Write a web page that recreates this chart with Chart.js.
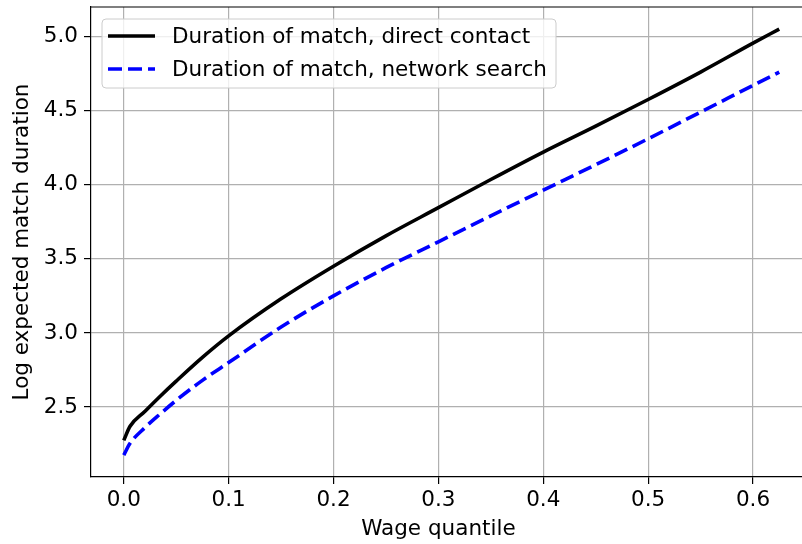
<!DOCTYPE html>
<html>
<head>
<meta charset="utf-8">
<script src="https://cdn.jsdelivr.net/npm/chart.js@4"></script>
<style>
html,body{margin:0;padding:0;overflow:hidden;background:#fff;}
#wrap{width:815px;height:544px;position:relative;}
</style>
</head>
<body>
<div id="wrap"><canvas id="c"></canvas></div>
<script>
const quantiles = [0, 0.006, 0.02, 0.035, 0.05, 0.075, 0.1, 0.15, 0.2, 0.25, 0.3, 0.35, 0.4, 0.45, 0.5, 0.55, 0.6, 0.625];
const directContact = [2.275, 2.37, 2.47, 2.575, 2.675, 2.835, 2.98, 3.23, 3.45, 3.655, 3.845, 4.035, 4.22, 4.395, 4.575, 4.76, 4.955, 5.05];
const networkSearch = [2.175, 2.255, 2.36, 2.455, 2.545, 2.68, 2.80, 3.04, 3.25, 3.44, 3.615, 3.79, 3.963, 4.135, 4.31, 4.49, 4.67, 4.76];
const xTicks = [0, 0.1, 0.2, 0.3, 0.4, 0.5, 0.6];
const yTicks = [2.5, 3.0, 3.5, 4.0, 4.5, 5.0];
const seriesLabels = ['Duration of match, direct contact', 'Duration of match, network search'];
const xTitle = 'Wage quantile';
const yTitle = 'Log expected match duration';

const FONT = 'DejaVu Sans';
const FS = 21.5;

const toPts = (ys) => quantiles.map((q, i) => ({x: q, y: ys[i]}));

const overlay = {
  id: 'overlay',
  afterDraw(chart) {
    const ctx = chart.ctx;
    const a = chart.chartArea;
    ctx.save();
    ctx.strokeStyle = '#000';
    ctx.lineWidth = 1.2;
    ctx.beginPath();
    ctx.moveTo(a.left, a.top);
    ctx.lineTo(a.right, a.top);
    ctx.stroke();
    ctx.fillStyle = '#000';
    ctx.font = FS + 'px "' + FONT + '"';
    ctx.textAlign = 'center';
    ctx.textBaseline = 'middle';
    ctx.fillText(xTitle, chart.scales.x.getPixelForValue(0.3), 529);
    ctx.save();
    ctx.translate(22, (a.top + a.bottom) / 2);
    ctx.rotate(-Math.PI / 2);
    ctx.fillText(yTitle, 0, 0);
    ctx.restore();
    const bx = 102, by = 19, bw = 454, bh = 69, r = 4;
    ctx.beginPath();
    ctx.moveTo(bx + r, by);
    ctx.lineTo(bx + bw - r, by);
    ctx.quadraticCurveTo(bx + bw, by, bx + bw, by + r);
    ctx.lineTo(bx + bw, by + bh - r);
    ctx.quadraticCurveTo(bx + bw, by + bh, bx + bw - r, by + bh);
    ctx.lineTo(bx + r, by + bh);
    ctx.quadraticCurveTo(bx, by + bh, bx, by + bh - r);
    ctx.lineTo(bx, by + r);
    ctx.quadraticCurveTo(bx, by, bx + r, by);
    ctx.closePath();
    ctx.fillStyle = 'rgba(255,255,255,0.8)';
    ctx.fill();
    ctx.strokeStyle = '#cccccc';
    ctx.lineWidth = 1;
    ctx.stroke();
    const rows = [36, 69];
    chart.data.datasets.forEach((ds, i) => {
      const y = rows[i];
      ctx.strokeStyle = ds.borderColor;
      ctx.lineWidth = ds.borderWidth;
      ctx.setLineDash(ds.borderDash || []);
      ctx.beginPath();
      ctx.moveTo(108, y);
      ctx.lineTo(155, y);
      ctx.stroke();
      ctx.setLineDash([]);
      ctx.fillStyle = '#000';
      ctx.textAlign = 'left';
      ctx.textBaseline = 'middle';
      ctx.fillText(ds.label, 172, y + 1);
    });
    ctx.restore();
  }
};

new Chart(document.getElementById('c'), {
  type: 'line',
  data: {
    datasets: [
      {label: seriesLabels[0], data: toPts(directContact), borderColor: '#000000', borderWidth: 3.6, pointRadius: 0, fill: false, cubicInterpolationMode: 'monotone'},
      {label: seriesLabels[1], data: toPts(networkSearch), borderColor: '#0000ff', borderWidth: 3.6, borderDash: [14, 6], pointRadius: 0, fill: false, cubicInterpolationMode: 'monotone'}
    ]
  },
  options: {
    responsive: true,
    maintainAspectRatio: false,
    animation: false,
    layout: {padding: {left: 0, right: 3, top: 7, bottom: 0}},
    plugins: {legend: {display: false}, tooltip: {enabled: false}},
    scales: {
      x: {
        type: 'linear', min: -0.03125, max: 0.65625,
        afterBuildTicks: (s) => { s.ticks = xTicks.map(v => ({value: v})); },
        afterFit: (s) => { s.height = 67; s.paddingLeft = 0; s.paddingRight = 0; },
        grid: {color: '#b0b0b0', lineWidth: 1.2, tickLength: 7, tickColor: '#000', tickWidth: 1.2},
        border: {color: '#000', width: 1.2},
        ticks: {color: '#000', font: {family: FONT, size: FS}, padding: 4, maxRotation: 0, callback: (v) => v.toFixed(1)}
      },
      y: {
        type: 'linear', min: 2.028, max: 5.199,
        afterBuildTicks: (s) => { s.ticks = yTicks.map(v => ({value: v})); },
        afterFit: (s) => { s.width = 91; s.paddingTop = 0; s.paddingBottom = 0; },
        grid: {color: '#b0b0b0', lineWidth: 1.2, tickLength: 7, tickColor: '#000', tickWidth: 1.2},
        border: {color: '#000', width: 1.2},
        ticks: {color: '#000', font: {family: FONT, size: FS}, padding: 6, callback: (v) => v.toFixed(1)}
      }
    }
  },
  plugins: [overlay]
});
</script>
</body>
</html>
